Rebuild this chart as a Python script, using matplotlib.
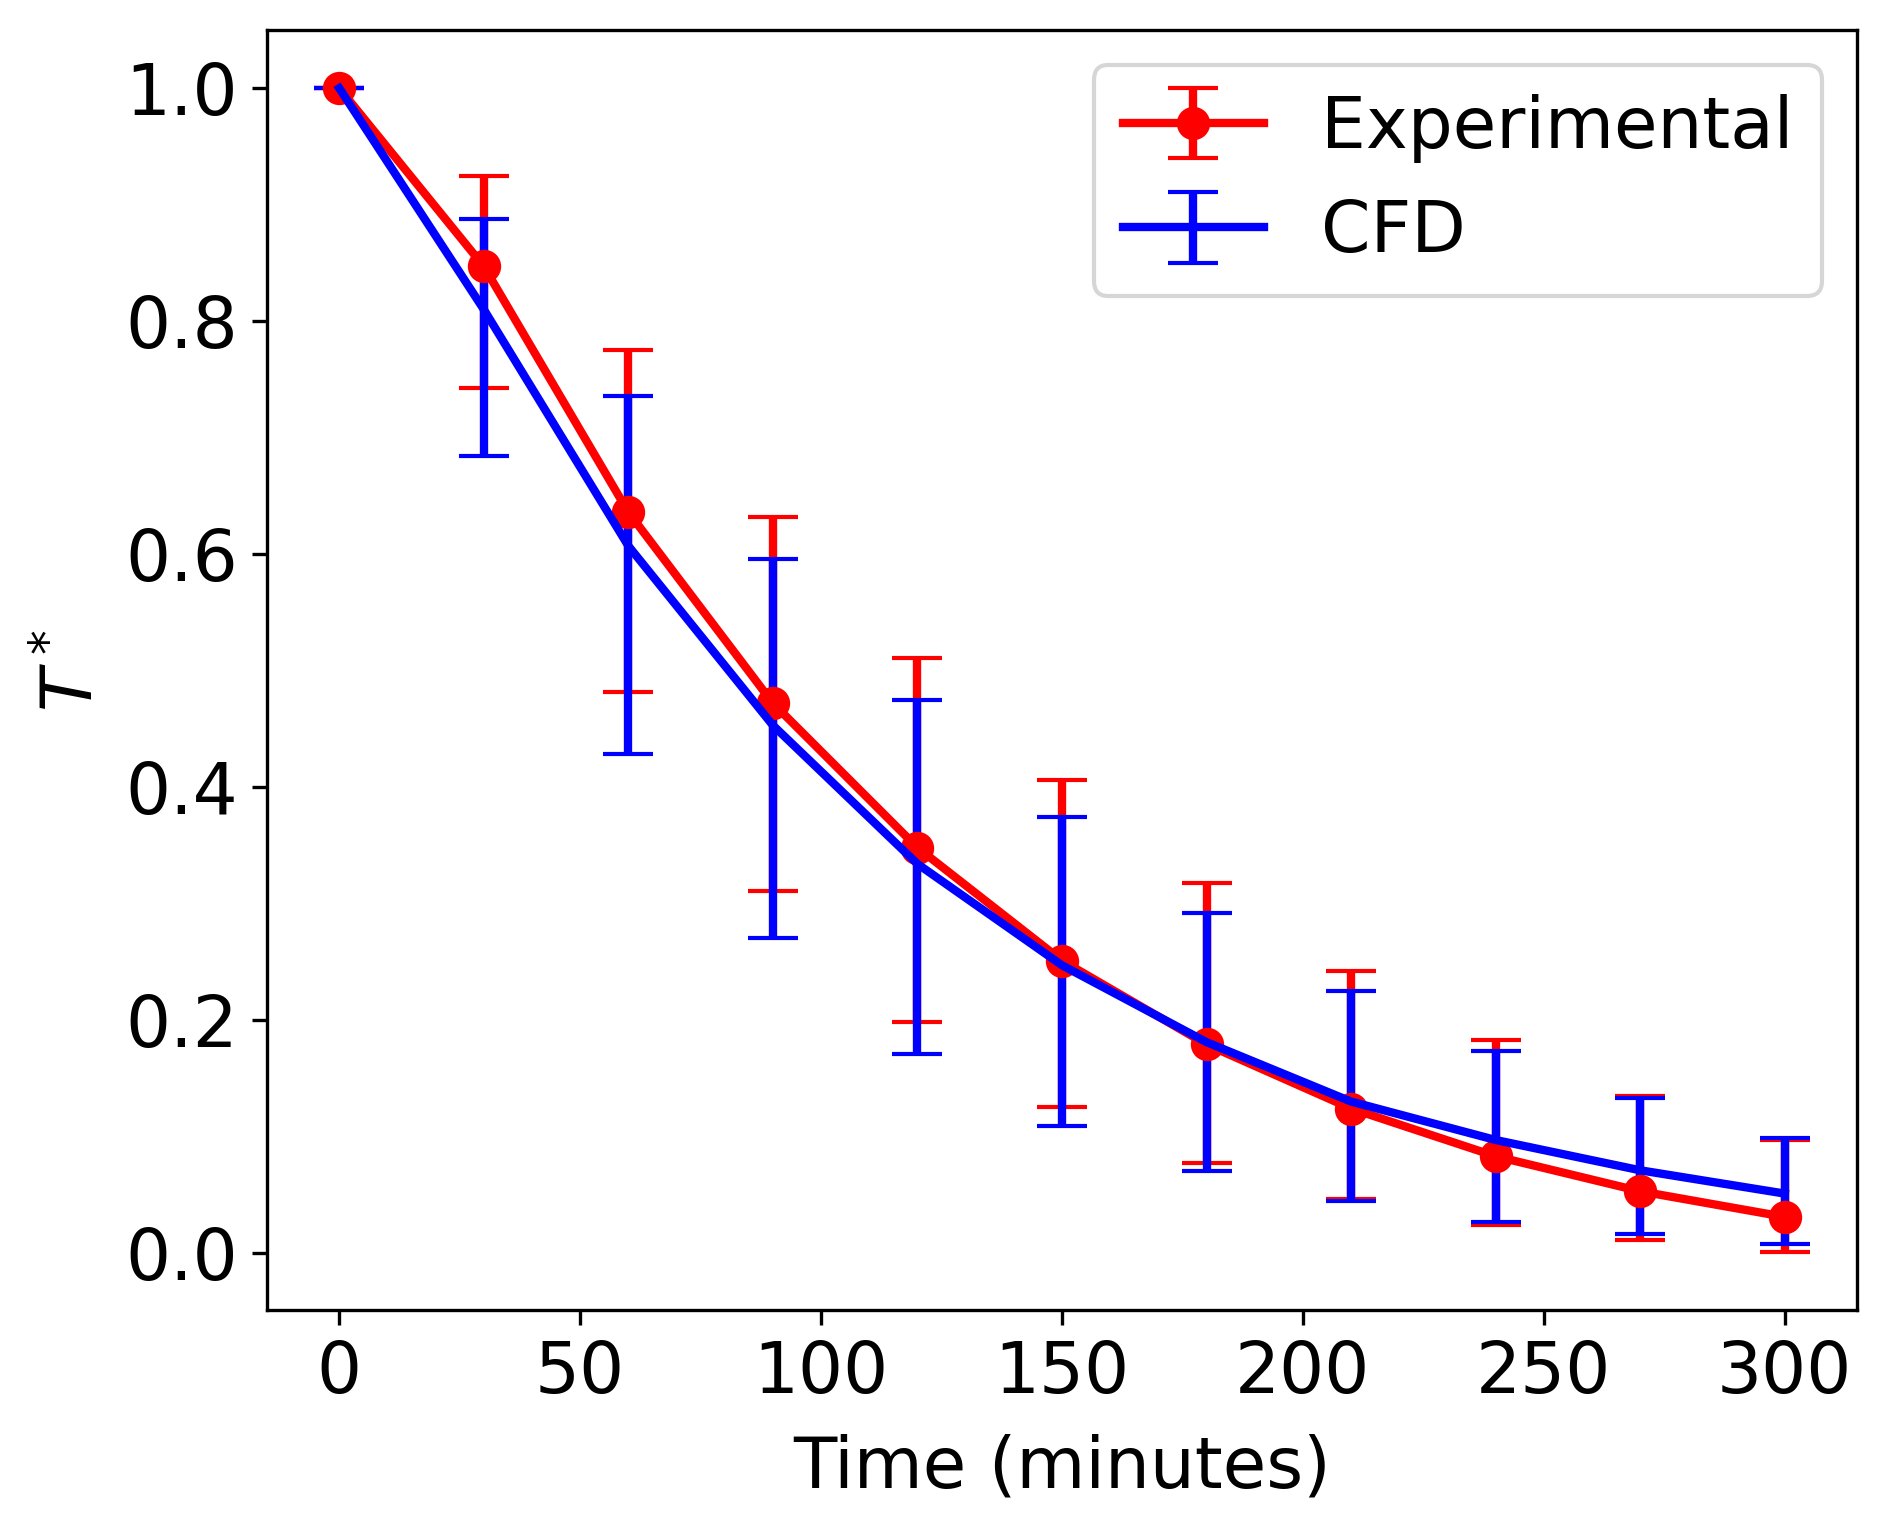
import matplotlib
matplotlib.use("Agg")
import matplotlib.pyplot as plt
import numpy as np

# Data
time = [0, 30, 60, 90, 120, 150, 180, 210, 240, 270, 300]

exp_mean  = [1.000, 0.847, 0.636, 0.472, 0.348, 0.251, 0.179, 0.124, 0.083, 0.053, 0.031]
exp_upper = [1.000, 0.925, 0.775, 0.632, 0.511, 0.406, 0.318, 0.242, 0.183, 0.135, 0.097]
exp_lower = [1.000, 0.743, 0.482, 0.311, 0.198, 0.125, 0.077, 0.046, 0.024, 0.011, 0.001]

cfd_mean  = [1.000, 0.810, 0.607, 0.453, 0.334, 0.247, 0.181, 0.130, 0.097, 0.071, 0.051]
cfd_upper = [1.000, 0.888, 0.736, 0.596, 0.475, 0.374, 0.292, 0.225, 0.173, 0.133, 0.099]
cfd_lower = [1.000, 0.684, 0.428, 0.270, 0.171, 0.109, 0.070, 0.045, 0.027, 0.016, 0.008]

exp_err = [np.array(exp_mean) - np.array(exp_lower), np.array(exp_upper) - np.array(exp_mean)]
cfd_err = [np.array(cfd_mean) - np.array(cfd_lower), np.array(cfd_upper) - np.array(cfd_mean)]

fs = 17
plt.rcParams['font.size'] = fs

fig = plt.figure(figsize=(1879/300, 1527/300), dpi=300)
ax = fig.add_axes([267/1879, 1 - 1310/1527, (1857-267)/1879, (1310-30)/1527])

ax.errorbar(time, exp_mean, yerr=exp_err, fmt='-o', color='r', lw=2, ms=7,
            capsize=6, label='Experimental')
ax.errorbar(time, cfd_mean, yerr=cfd_err, fmt='-', color='b', lw=2,
            capsize=6, label='CFD')

ax.set_xlabel('Time (minutes)', fontsize=fs, labelpad=6)
ax.set_ylabel('$T^*$', fontsize=fs)
ax.tick_params(labelsize=fs)
ax.legend(loc='upper right', fontsize=fs)

fig.savefig('out.png', dpi=300)
